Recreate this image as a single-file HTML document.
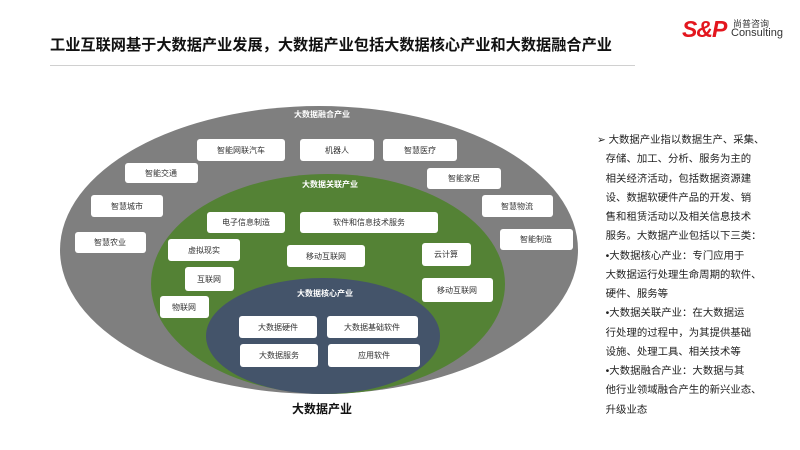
<!DOCTYPE html>
<html><head><meta charset="utf-8"><style>
body{margin:0;width:800px;height:450px;background:#fff;overflow:hidden;font-family:"Liberation Sans","Noto Sans CJK SC",sans-serif;position:relative}
.t{position:absolute;left:50px;top:33px;font-size:15.2px;font-weight:bold;color:#111;white-space:nowrap;font-family:"Noto Sans CJK SC",sans-serif}
.ln{position:absolute;left:50px;top:65px;width:585px;height:1px;background:#d0d0d0}
.r{position:absolute;left:597px;top:131px;font-size:10.4px;line-height:19.25px;color:#222;white-space:nowrap}
</style></head><body>
<div class="t">工业互联网基于大数据产业发展，大数据产业包括大数据核心产业和大数据融合产业</div>
<div class="ln"></div>
<div style="position:absolute;left:682px;top:16px;font-family:'Liberation Sans',sans-serif;font-weight:900;font-style:italic;font-size:23px;color:#e3161e;letter-spacing:-1px">S&amp;P</div>
<div style="position:absolute;left:733px;top:17px;font-size:9px;color:#333">尚普咨询</div>
<div style="position:absolute;left:731px;top:27px;font-size:11px;color:#333">Consulting</div>
<svg width="800" height="450" style="position:absolute;left:0;top:0" font-family="Liberation Sans, Noto Sans CJK SC, sans-serif">
<ellipse cx="319" cy="250" rx="259" ry="144" fill="#7f7f7f"/>
<ellipse cx="328" cy="284" rx="177" ry="110" fill="#548235"/>
<ellipse cx="323" cy="336" rx="117" ry="58" fill="#44546a"/>
<g fill="#fff" font-weight="bold" font-size="8" text-anchor="middle">
<text x="322" y="117">大数据融合产业</text>
<text x="330" y="187">大数据关联产业</text>
<text x="325" y="296">大数据核心产业</text>
</g>
<g fill="#fff">
<rect x="197" y="139" width="88" height="22" rx="3"/>
<rect x="300" y="139" width="74" height="22" rx="3"/>
<rect x="383" y="139" width="74" height="22" rx="3"/>
<rect x="125" y="163" width="73" height="20" rx="3"/>
<rect x="427" y="168" width="74" height="21" rx="3"/>
<rect x="91" y="195" width="72" height="22" rx="3"/>
<rect x="482" y="195" width="71" height="22" rx="3"/>
<rect x="75" y="232" width="71" height="21" rx="3"/>
<rect x="500" y="229" width="73" height="21" rx="3"/>
<rect x="207" y="212" width="78" height="21" rx="3"/>
<rect x="300" y="212" width="138" height="21" rx="3"/>
<rect x="168" y="239" width="72" height="22" rx="3"/>
<rect x="287" y="245" width="78" height="22" rx="3"/>
<rect x="422" y="243" width="49" height="23" rx="3"/>
<rect x="185" y="267" width="49" height="24" rx="3"/>
<rect x="422" y="278" width="71" height="24" rx="3"/>
<rect x="160" y="296" width="49" height="22" rx="3"/>
<rect x="239" y="316" width="78" height="22" rx="3"/>
<rect x="327" y="316" width="91" height="22" rx="3"/>
<rect x="240" y="344" width="78" height="23" rx="3"/>
<rect x="328" y="344" width="92" height="23" rx="3"/>
</g>
<g fill="#333" font-size="8" text-anchor="middle">
<text x="241" y="153">智能网联汽车</text>
<text x="337" y="153">机器人</text>
<text x="420" y="153">智慧医疗</text>
<text x="161" y="176">智能交通</text>
<text x="464" y="181">智能家居</text>
<text x="127" y="209">智慧城市</text>
<text x="517" y="209">智慧物流</text>
<text x="110" y="245">智慧农业</text>
<text x="536" y="242">智能制造</text>
<text x="246" y="225">电子信息制造</text>
<text x="369" y="225">软件和信息技术服务</text>
<text x="204" y="253">虚拟现实</text>
<text x="326" y="259">移动互联网</text>
<text x="446" y="257">云计算</text>
<text x="209" y="282">互联网</text>
<text x="457" y="293">移动互联网</text>
<text x="184" y="310">物联网</text>
<text x="278" y="330">大数据硬件</text>
<text x="372" y="330">大数据基础软件</text>
<text x="279" y="358">大数据服务</text>
<text x="374" y="358">应用软件</text>
</g>
<text x="322" y="413" font-size="12" font-weight="bold" fill="#111" text-anchor="middle">大数据产业</text>
</svg>
<div class="r">➢ 大数据产业指以数据生产、采集、<br>&nbsp;&nbsp;&nbsp;存储、加工、分析、服务为主的<br>&nbsp;&nbsp;&nbsp;相关经济活动，包括数据资源建<br>&nbsp;&nbsp;&nbsp;设、数据软硬件产品的开发、销<br>&nbsp;&nbsp;&nbsp;售和租赁活动以及相关信息技术<br>&nbsp;&nbsp;&nbsp;服务。大数据产业包括以下三类：<br>&nbsp;&nbsp;&nbsp;•大数据核心产业：专门应用于<br>&nbsp;&nbsp;&nbsp;大数据运行处理生命周期的软件、<br>&nbsp;&nbsp;&nbsp;硬件、服务等<br>&nbsp;&nbsp;&nbsp;•大数据关联产业：在大数据运<br>&nbsp;&nbsp;&nbsp;行处理的过程中，为其提供基础<br>&nbsp;&nbsp;&nbsp;设施、处理工具、相关技术等<br>&nbsp;&nbsp;&nbsp;•大数据融合产业：大数据与其<br>&nbsp;&nbsp;&nbsp;他行业领域融合产生的新兴业态、<br>&nbsp;&nbsp;&nbsp;升级业态</div>
</body></html>
